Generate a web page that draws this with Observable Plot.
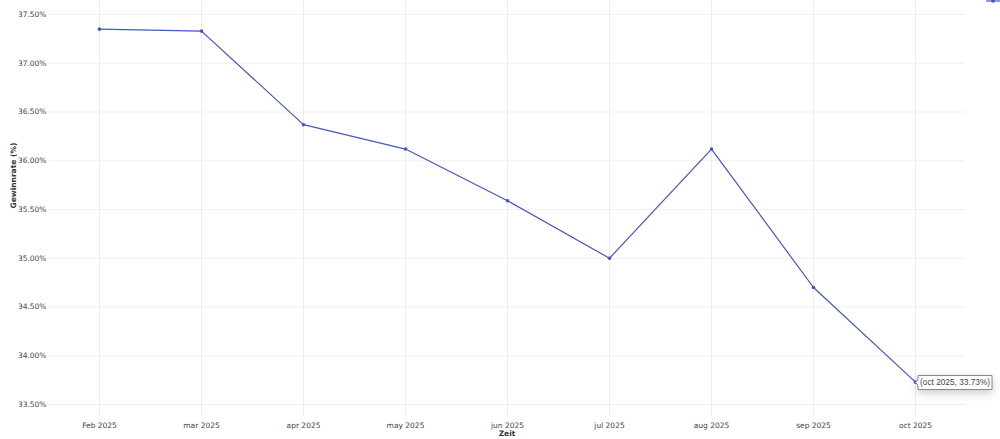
<!DOCTYPE html>
<html>
<head>
<meta charset="utf-8">
<script src="https://cdn.jsdelivr.net/npm/d3@7"></script>
<script src="https://cdn.jsdelivr.net/npm/@observablehq/plot@0.6"></script>
<style>
  html, body { margin: 0; padding: 0; background: #fff; }
  #wrap { position: relative; width: 1000px; height: 439px; overflow: hidden; }
  #legend { position: absolute; right: 0; top: -4px; }
</style>
</head>
<body>
<div id="wrap"></div>
<script>
const months = ["Feb 2025", "mar 2025", "apr 2025", "may 2025", "jun 2025", "jul 2025", "aug 2025", "sep 2025", "oct 2025"];
const winRate = [37.35, 37.33, 36.37, 36.12, 35.59, 35.00, 36.12, 34.70, 33.73];
const yTicks = [33.5, 34.0, 34.5, 35.0, 35.5, 36.0, 36.5, 37.0, 37.5];
const xTitle = "Zeit";
const yTitle = "Gewinnrate (%)";
const lineColor = "#4655c2";

const data = months.map((m, i) => ({month: m, rate: winRate[i]}));
const last = data[data.length - 1];

const chart = Plot.plot({
  width: 1000,
  height: 439,
  marginLeft: 48,
  marginRight: 35,
  marginTop: 0,
  marginBottom: 23,
  style: {fontFamily: "DejaVu Sans", fontSize: "7.5px", color: "#444", background: "#fff"},
  x: {type: "point", domain: months, range: [97, 917], padding: 0, label: null},
  y: {domain: [33.5, 37.5], range: [404, 14], label: null},
  marks: [
    Plot.gridX(months, {stroke: "#ededed", strokeOpacity: 1, strokeWidth: 1}),
    Plot.gridY(yTicks, {stroke: "#efefef", strokeOpacity: 1, strokeWidth: 1}),
    Plot.axisY(yTicks, {tickSize: 0, tickPadding: 2, tickFormat: d => d.toFixed(2) + "%", fill: "#444", label: null}),
    Plot.axisX(months, {tickSize: 0, tickPadding: 6, fill: "#444", label: null}),
    Plot.text([yTitle], {frameAnchor: "left", dx: -35, rotate: -90, fontWeight: "bold", fill: "#333", fontSize: 7.5}),
    Plot.text([xTitle], {frameAnchor: "bottom", dy: 19, fontWeight: "bold", fill: "#333", fontSize: 7.5}),
    Plot.line(data, {x: "month", y: "rate", stroke: lineColor, strokeWidth: 1.2}),
    Plot.dot(data, {x: "month", y: "rate", r: 1.8, fill: lineColor, stroke: null}),
    Plot.tip([last], {
      x: "month", y: "rate", anchor: "left", pointerSize: 5, textPadding: 2,
      fontSize: 8.3, fontFamily: "Liberation Sans",
      fill: "#fff", stroke: "#888",
      title: d => `(oct 2025, ${d.rate.toFixed(2)}%)`
    })
  ]
});
document.getElementById("wrap").appendChild(chart);

// legend swatch in top-right corner (partly clipped, as in the reference)
const ns = "http://www.w3.org/2000/svg";
const lg = document.createElementNS(ns, "svg");
lg.setAttribute("id", "legend");
lg.setAttribute("width", 16);
lg.setAttribute("height", 10);
const ln = document.createElementNS(ns, "line");
ln.setAttribute("x1", 2); ln.setAttribute("x2", 16); ln.setAttribute("y1", 5); ln.setAttribute("y2", 5);
ln.setAttribute("stroke", lineColor); ln.setAttribute("stroke-width", 1.2);
const cc = document.createElementNS(ns, "circle");
cc.setAttribute("cx", 9); cc.setAttribute("cy", 5); cc.setAttribute("r", 1.8); cc.setAttribute("fill", lineColor);
lg.appendChild(ln); lg.appendChild(cc);
document.getElementById("wrap").appendChild(lg);
</script>
</body>
</html>
